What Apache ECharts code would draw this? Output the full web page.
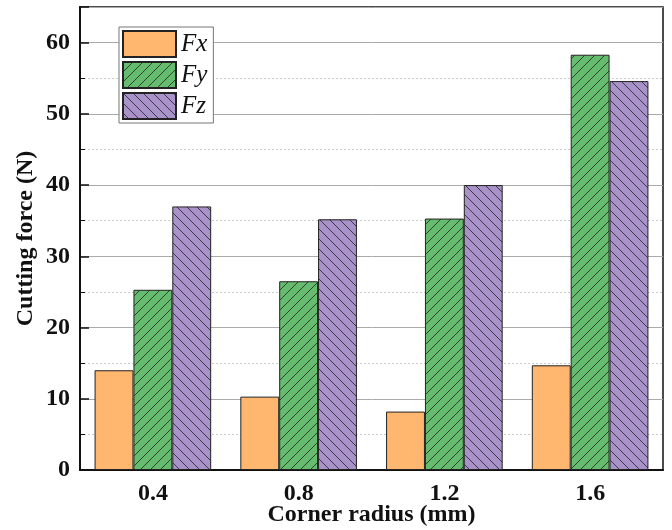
<!DOCTYPE html>
<html>
<head>
<meta charset="utf-8">
<script src="https://cdn.jsdelivr.net/npm/echarts@6/dist/echarts.min.js"></script>
<style>
html, body { margin: 0; padding: 0; background: #fff; }
#main { width: 672px; height: 530px; }
</style>
</head>
<body>
<div id="main"></div>
<script>
var categories = ['0.4', '0.8', '1.2', '1.6'];
var fxData = [14.0, 10.3, 8.2, 14.7];
var fyData = [25.3, 26.5, 35.3, 58.3];
var fzData = [37.0, 35.2, 40.0, 54.6];

// hatch fill: dir 1 = "/" , dir -1 = "\"
function hatch(bg, dir) {
	var s = 10;
	var c = document.createElement('canvas');
	c.width = s; c.height = s;
	var ctx = c.getContext('2d');
	ctx.fillStyle = bg;
	ctx.fillRect(0, 0, s, s);
	ctx.strokeStyle = '#222';
	ctx.lineWidth = 0.8;
	ctx.beginPath();
	if (dir > 0) {
		ctx.moveTo(-1, s + 1); ctx.lineTo(s + 1, -1);
		ctx.moveTo(-2, 2); ctx.lineTo(2, -2);
		ctx.moveTo(s - 2, s + 2); ctx.lineTo(s + 2, s - 2);
	} else {
		ctx.moveTo(-1, -1); ctx.lineTo(s + 1, s + 1);
		ctx.moveTo(s - 2, -2); ctx.lineTo(s + 2, 2);
		ctx.moveTo(-2, s - 2); ctx.lineTo(2, s + 2);
	}
	ctx.stroke();
	return c;
}

var font = 'Liberation Serif';
var barBorder = { borderColor: '#222', borderWidth: 1 };

var option = {
	animation: false,
	grid: {
		left: 80, right: 9, top: 7, bottom: 60,
		outerBoundsMode: 'none',
		containLabel: false,
		show: true, borderColor: '#111', borderWidth: 1.5
	},
	legend: {
		left: 119, top: 27,
		orient: 'vertical',
		itemWidth: 53, itemHeight: 26, itemGap: 3,
		padding: [3, 6, 3, 3],
		borderColor: '#777', borderWidth: 1,
		backgroundColor: '#fff',
		icon: 'rect',
		textStyle: { fontFamily: font, fontStyle: 'italic', fontSize: 25, lineHeight: 24, color: '#111' },
		data: ['Fx', 'Fy', 'Fz']
	},
	xAxis: {
		type: 'category',
		data: categories,
		name: 'Corner radius (mm)',
		nameLocation: 'middle',
		nameGap: 33,
		nameMoveOverlap: false,
		nameTextStyle: { fontFamily: font, fontWeight: 'bold', fontSize: 24, color: '#111' },
		axisLine: { lineStyle: { color: '#111', width: 2 } },
		axisTick: { show: false },
		axisLabel: { fontFamily: font, fontWeight: 'bold', fontSize: 24, color: '#111', margin: 12 }
	},
	yAxis: {
		type: 'value',
		min: 0, max: 65, interval: 10,
		name: 'Cutting force (N)',
		nameLocation: 'middle',
		nameGap: 42,
		nameMoveOverlap: false,
		nameTextStyle: { fontFamily: font, fontWeight: 'bold', fontSize: 24, color: '#111' },
		axisLine: { show: true, lineStyle: { color: '#111', width: 2 } },
		axisTick: { show: true, inside: true, length: 9, lineStyle: { color: '#111', width: 1.5 } },
		minorTick: { show: true, splitNumber: 2, length: 5, lineStyle: { color: '#111', width: 1 } },
		axisLabel: { fontFamily: font, fontWeight: 'bold', fontSize: 24, color: '#111', margin: 10, showMaxLabel: false },
		splitLine: { show: true, lineStyle: { color: '#aaa', width: 1 } },
		minorSplitLine: { show: true, lineStyle: { color: '#ccc', width: 1, type: [2, 2] } }
	},
	series: [
		{ name: 'Fx', type: 'bar', data: fxData, barGap: '0%', barCategoryGap: '20%',
			itemStyle: Object.assign({ color: '#FFB66E' }, barBorder) },
		{ name: 'Fy', type: 'bar', data: fyData, barGap: '0%', barCategoryGap: '20%',
			itemStyle: Object.assign({ color: { image: hatch('#66BC6E', 1), repeat: 'repeat' } }, barBorder) },
		{ name: 'Fz', type: 'bar', data: fzData, barGap: '0%', barCategoryGap: '20%',
			itemStyle: Object.assign({ color: { image: hatch('#A991CA', -1), repeat: 'repeat' } }, barBorder) }
	]
};

var chart = echarts.init(document.getElementById('main'));
chart.setOption(option);
</script>
</body>
</html>
